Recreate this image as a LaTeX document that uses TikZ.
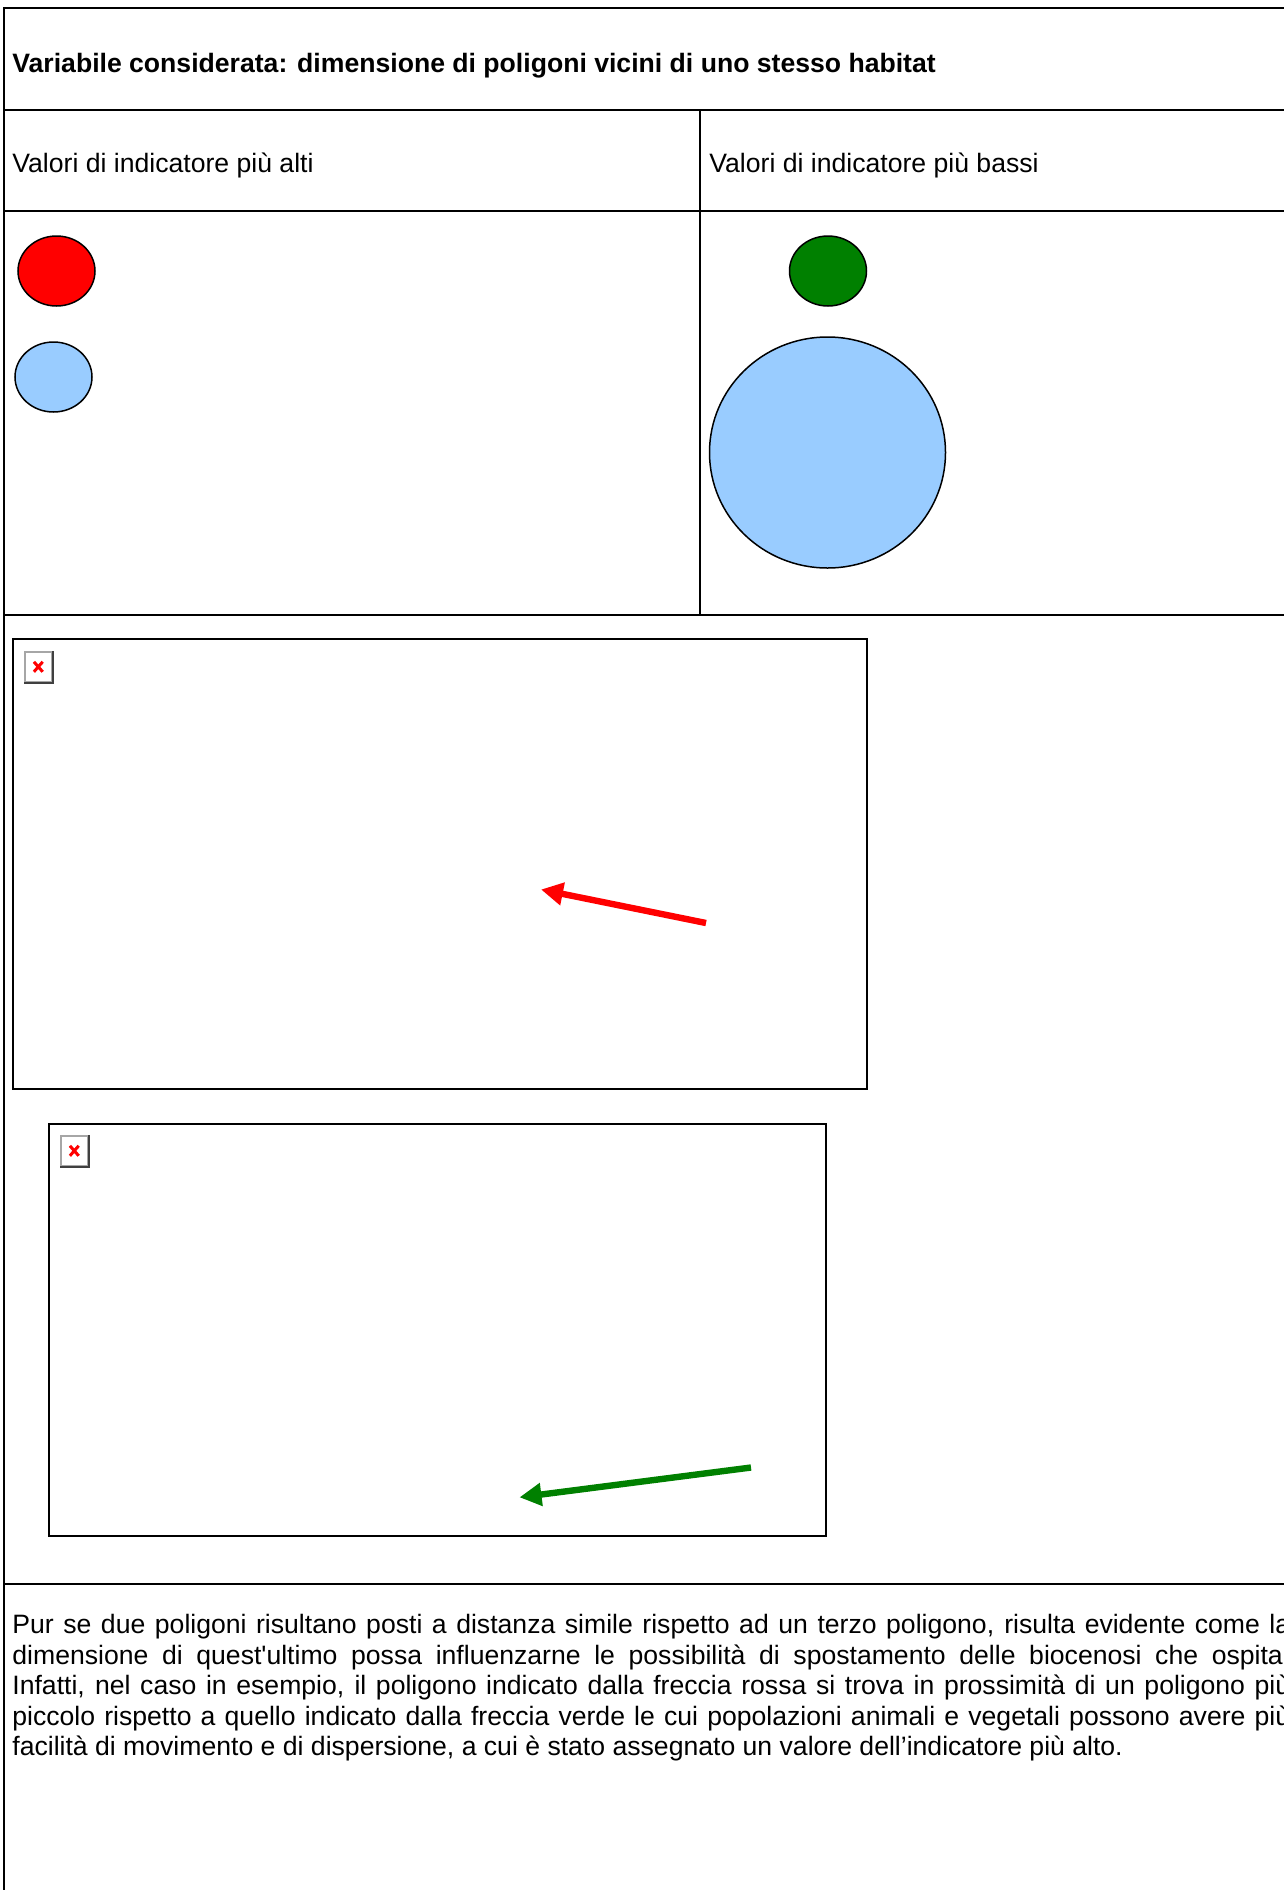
\documentclass[tikz,border=0pt]{standalone}
\usepackage{fontspec}
\setmainfont{Liberation Sans}
\usepackage{tikz}
\usetikzlibrary{shapes.geometric, positioning, arrows.meta}
\definecolor{polyred}{RGB}{255,0,0}
\definecolor{polygreen}{RGB}{0,128,0}
\definecolor{polyblue}{RGB}{153,204,255}

\begin{document}
\begin{tikzpicture}[x=0.5pt, y=-0.5pt,
	tablerule/.style={line width=0.6pt},
	celltext/.style={anchor=base west, inner sep=0, font=\fontsize{13.3}{15.25}\selectfont},
	poly/.style={ellipse, draw, line width=0.75pt, inner sep=0, minimum width=38.5pt, minimum height=35pt},
	shot/.style={rectangle, draw, line width=0.9pt, inner sep=0, anchor=north west},
	brokenimg/.style={rectangle, draw=black!35, fill=white, line width=0.8pt, inner sep=0, minimum width=13.5pt, minimum height=15pt,
		path picture={\draw[polyred, line width=1.5pt]
			([shift={(-2.2pt,-2.5pt)}]path picture bounding box.center) -- ([shift={(2.2pt,2.5pt)}]path picture bounding box.center)
			([shift={(-2.2pt,2.5pt)}]path picture bounding box.center) -- ([shift={(2.2pt,-2.5pt)}]path picture bounding box.center);}},
	pointer/.style={line width=3.2pt, -{Triangle[length=11pt, width=11pt]}}]
	% Table, polygons and screenshots:
	\useasboundingbox (0,0) rectangle (1284,1890);
	\draw[tablerule] (4,1890) -- (4,8) -- (1290,8);
	\foreach \y in {110,211,615,1584}
		\draw[tablerule] (4,\y) -- (1290,\y);
	\draw[tablerule] (700,110) -- (700,615);
	\node[celltext] (title) at (12,72.5) {\bfseries Variabile considerata: dimensione di poligoni vicini di uno stesso habitat};
	\node[celltext] (colhigh) at (12,172.5) {Valori di indicatore più alti};
	\node[celltext] (collow) at (709,172.5) {Valori di indicatore più bassi};
	\node[poly, fill=polyred] (redpoly) at (56.5,271) {};
	\node[poly, fill=polyblue] (bluesmall) at (53.5,377) {};
	\node[poly, fill=polygreen] (greenpoly) at (828,271) {};
	\node[poly, fill=polyblue, minimum width=118pt, minimum height=115.5pt] (bluebig) at (827.5,452.5) {};
	\node[shot, minimum width=427pt, minimum height=225pt] (shotA) at (12,638) {};
	\node[brokenimg, below right=6.5pt and 6pt of shotA.north west] (iconA) {};
	\draw[black!75, line width=1pt] (iconA.north east) -- (iconA.south east) -- (iconA.south west);
	\coordinate (redtail) at (706,923);
	\coordinate (redtip) at (541,889.5);
	\draw[pointer, polyred] (redtail) -- (redtip);
	\node[shot, minimum width=388.5pt, minimum height=206pt] (shotB) at (48,1123) {};
	\node[brokenimg, below right=6pt and 6pt of shotB.north west] (iconB) {};
	\draw[black!75, line width=1pt] (iconB.north east) -- (iconB.south east) -- (iconB.south west);
	\coordinate (greentail) at (751,1467.5);
	\coordinate (greentip) at (519.5,1497.3);
	\draw[pointer, polygreen] (greentail) -- (greentip);
	\node[celltext, anchor=north west, text width=639pt, align=justify] (note) at (12,1614) {Pur se due poligoni risultano posti a distanza simile rispetto ad un terzo poligono, risulta evidente come la\linebreak dimensione di quest\textquotesingle ultimo possa influenzarne le possibilità di spostamento delle biocenosi che ospita.\linebreak Infatti, nel caso in esempio, il poligono indicato dalla freccia rossa si trova in prossimità di un poligono più\linebreak piccolo rispetto a quello indicato dalla freccia verde le cui popolazioni animali e vegetali possono avere più\linebreak facilità di movimento e di dispersione, a cui è stato assegnato un valore dell’indicatore più alto.};
\end{tikzpicture}
\end{document}
